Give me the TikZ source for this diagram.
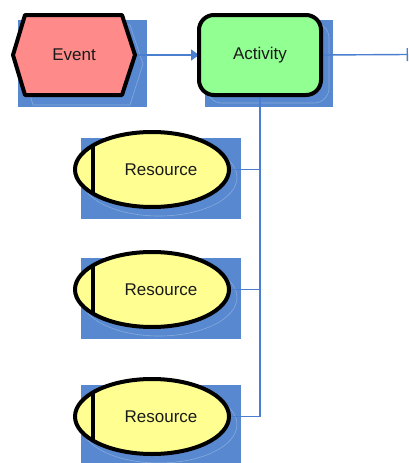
\documentclass[tikz,border=0pt]{standalone}
\usepackage{fontspec}
\setmainfont{Liberation Sans}
\usetikzlibrary{arrows.meta,calc,shapes.geometric}
\pgfdeclarelayer{bg}
\pgfdeclarelayer{links}
\pgfsetlayers{bg,links,main}
\definecolor{shadowblue}{RGB}{88,137,208}
\definecolor{linkblue}{RGB}{74,126,207}
\definecolor{eventfill}{RGB}{255,138,138}
\definecolor{actfill}{RGB}{145,255,145}
\definecolor{resfill}{RGB}{255,255,145}
\definecolor{txt}{RGB}{26,26,26}
\begin{document}
\begin{tikzpicture}[x=1pt,y=-1pt,
  lbl/.style={font=\fontsize{17}{20}\selectfont, text=txt},
  shade/.style={fill=shadowblue, draw=none},
  ghost/.style={draw=white, draw opacity=0.28, line width=0.6pt},
  border/.style={draw=black, line width=4pt, line join=round},
  link/.style={draw=linkblue, line width=1.4pt},
  evbox/.style={lbl, minimum width=122pt, minimum height=80pt, inner sep=0pt, outer sep=0pt},
  actbox/.style={lbl, border, fill=actfill, rounded corners=15pt, minimum width=122pt, minimum height=80pt, inner sep=0pt, outer sep=0pt},
  resbox/.style={border, fill=resfill, ellipse, minimum width=154pt, minimum height=75pt, inner sep=0pt, outer sep=0pt}
]
\useasboundingbox (0,0) rectangle (409,463);

\begin{pgfonlayer}{bg}
% shadows
\fill[shade] (18,20) rectangle (147,107);
\fill[shade] (205,20) rectangle (333,107);
\fill[shade] (81,138) rectangle (241,219);
\fill[shade] (81,258) rectangle (241,339);
\fill[shade] (81,385) rectangle (241,466);
% faint shadow outlines
\begin{scope}
  \clip (18,20) rectangle (147,107);
  \draw[ghost] (21,64) -- (33,25) -- (130,25) -- (143,64) -- (130,105) -- (33,105) -- cycle;
\end{scope}
\begin{scope}
  \clip (205,20) rectangle (333,107);
  \draw[ghost, rounded corners=15pt] (207,23) rectangle (329,103);
\end{scope}
\foreach \cy/\ty/\by in {169.5/138/219, 289.5/258/339, 416.5/385/466}{
  \begin{scope}
    \clip (81,\ty) rectangle (241,\by);
    \draw[ghost] (159,\cy+8) ellipse [x radius=78pt, y radius=38.5pt];
  \end{scope}
}
\end{pgfonlayer}

% nodes
\node[evbox] (ev) at (74,55) {};
\draw[border, fill=eventfill] (ev.west) -- ($(ev.north west)+(12,0)$) -- ($(ev.north east)+(-13,0)$) -- (ev.east) -- ($(ev.south east)+(-13,0)$) -- ($(ev.south west)+(12,0)$) -- cycle;
\node[lbl] (evtext) at (ev.center) {Event};
\node[actbox] (act) at (260,55) {Activity};
\foreach \r/\y in {r1/169.5, r2/289.5, r3/416.5}{
  \node[resbox] (\r) at (152,\y) {};
  \draw[line width=3.2pt] ($(\r.center)+(-59,-24)$) -- ($(\r.center)+(-59,24)$);
  \node[lbl] (\r t) at ($(\r.center)+(9,0)$) {Resource};
}
\coordinate (out) at (408,54.5);

% connectors
\begin{pgfonlayer}{links}
\draw[link, -{Triangle[length=8pt,width=11pt]}] (ev.east) -- (act.west);
\draw[link, -{Bar[width=13pt]}] (act.east) -- (out);
\draw[link] (r1.east) -| (act.south);
\draw[link] (r2.east) -| (act.south);
\draw[link] (r3.east) -| (act.south);
\end{pgfonlayer}
\end{tikzpicture}
\end{document}
